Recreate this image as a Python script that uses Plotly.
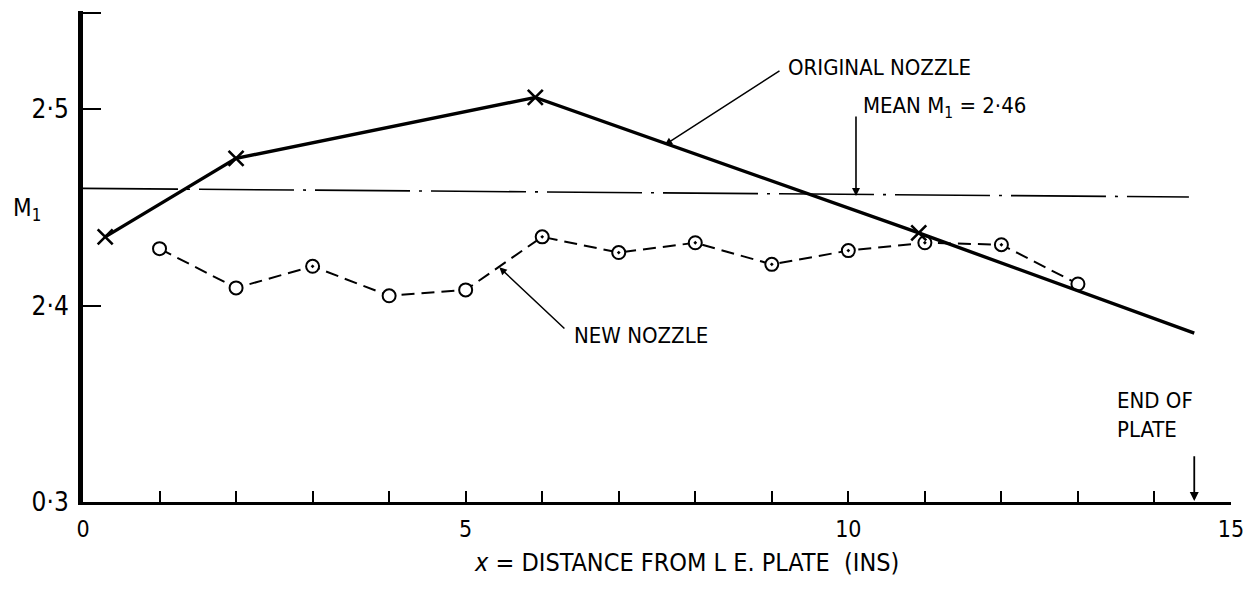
import plotly.graph_objects as go

# ---- data ----
orig_x = [0.29, 2.0, 5.91, 10.92, 14.52]
orig_y = [2.435, 2.475, 2.506, 2.437, 2.386]
orig_marked = 4  # first four points carry an "x" marker; last is the line end

new_x = [1, 2, 3, 4, 5, 6, 7, 8, 9, 10, 11, 12, 13]
new_y = [2.429, 2.409, 2.420, 2.405, 2.408, 2.435, 2.427,
         2.432, 2.421, 2.428, 2.432, 2.431, 2.411]
new_dotted = [False, False, True, False, False, True, True,
              True, True, True, True, True, False]

mean_x = [0, 14.45]
mean_y = [2.4597, 2.4553]

end_of_plate = 14.52

x_tick_vals = [0, 5, 10, 15]
x_tick_text = ["0", "5", "10", "15"]
y_tick_vals = [2.3, 2.4, 2.5, 2.549]
y_tick_text = ["0·3", "2·4", "2·5", ""]

FONT = "Liberation Sans Narrow, Arial Narrow, DejaVu Sans Condensed, sans-serif"

fig = go.Figure()

# mean line (dash-dot)
fig.add_trace(go.Scatter(
    x=mean_x, y=mean_y, mode="lines",
    line=dict(color="black", width=1.6, dash="95px,9px,3px,9px"),
    hoverinfo="skip", showlegend=False))

# new nozzle (dashed with circles)
fig.add_trace(go.Scatter(
    x=new_x, y=new_y, mode="lines+markers",
    line=dict(color="black", width=2, dash="13px,7px"),
    marker=dict(symbol=["circle-dot" if d else "circle" for d in new_dotted],
                size=13, color="white", line=dict(color="black", width=2)),
    showlegend=False))

# original nozzle (solid)
fig.add_trace(go.Scatter(
    x=orig_x, y=orig_y, mode="lines",
    line=dict(color="black", width=3.4), showlegend=False))
fig.add_trace(go.Scatter(
    x=orig_x[:orig_marked], y=orig_y[:orig_marked], mode="markers",
    marker=dict(symbol="x-thin", size=15, color="black",
                line=dict(color="black", width=2.6)),
    showlegend=False))

ann = []
txt = dict(family=FONT, size=22, color="black")

# ORIGINAL NOZZLE label + leader
ann.append(dict(x=9.19, y=2.521, xref="x", yref="y", text="ORIGINAL NOZZLE",
                showarrow=False, xanchor="left", yanchor="middle", font=txt))
ann.append(dict(x=7.60, y=2.4818, ax=9.12, ay=2.520, xref="x", yref="y",
                axref="x", ayref="y", text="", showarrow=True,
                arrowhead=2, arrowsize=1, arrowwidth=1.5, arrowcolor="black"))

# MEAN label + arrow
ann.append(dict(x=10.16, y=2.5011, xref="x", yref="y",
                text="MEAN M<sub>1</sub> = 2·46",
                showarrow=False, xanchor="left", yanchor="middle", font=txt))
ann.append(dict(x=10.10, y=2.4558, ax=10.10, ay=2.497, xref="x", yref="y",
                axref="x", ayref="y", text="", showarrow=True,
                arrowhead=2, arrowsize=1, arrowwidth=1.6, arrowcolor="black"))

# NEW NOZZLE label + leader
ann.append(dict(x=6.39, y=2.385, xref="x", yref="y", text="NEW NOZZLE",
                showarrow=False, xanchor="left", yanchor="middle", font=txt))
ann.append(dict(x=5.44, y=2.4195, ax=6.31, ay=2.3876, xref="x", yref="y",
                axref="x", ayref="y", text="", showarrow=True,
                arrowhead=2, arrowsize=1, arrowwidth=1.5, arrowcolor="black"))

# END OF PLATE label + arrow
ann.append(dict(x=13.49, y=2.3443, xref="x", yref="y", text="END OF<br>PLATE",
                showarrow=False, xanchor="left", yanchor="middle", align="left",
                font=txt))
ann.append(dict(x=end_of_plate, y=2.3005, ax=end_of_plate, ay=2.324,
                xref="x", yref="y", axref="x", ayref="y", text="",
                showarrow=True, arrowhead=2, arrowsize=1, arrowwidth=1.8,
                arrowcolor="black"))

# y-axis title M1
ann.append(dict(x=-0.0487, y=2.4487, xref="paper", yref="y",
                text="M<sub>1</sub>", showarrow=False,
                xanchor="center", yanchor="middle",
                font=dict(family=FONT, size=24, color="black")))

# x-axis title
ann.append(dict(x=0.526, y=-0.124, xref="paper", yref="paper",
                text="<i>x</i> = DISTANCE FROM L E. PLATE  (INS)",
                showarrow=False, xanchor="center", yanchor="middle",
                font=dict(family=FONT, size=25, color="black")))

fig.update_layout(
    width=1255, height=591,
    margin=dict(l=83, r=22, t=11, b=89),
    paper_bgcolor="white", plot_bgcolor="white",
    font=dict(family=FONT, size=22, color="black"),
    annotations=ann,
    xaxis=dict(range=[0, 15], showgrid=False, zeroline=False,
               showline=True, linecolor="black", linewidth=3,
               tickmode="array", tickvals=x_tick_vals, ticktext=x_tick_text,
               ticks="inside", ticklen=11, tickwidth=2, tickcolor="black",
               ticklabelstandoff=4,
               minor=dict(dtick=1, ticks="inside", ticklen=11, tickwidth=2,
                          tickcolor="black", showgrid=False),
               tickfont=dict(family=FONT, size=23)),
    yaxis=dict(range=[2.3, 2.55], showgrid=False, zeroline=False,
               showline=True, linecolor="black", linewidth=5,
               tickmode="array", tickvals=y_tick_vals, ticktext=y_tick_text,
               ticks="inside", ticklen=18, tickwidth=2, tickcolor="black",
               ticklabelstandoff=4,
               tickfont=dict(family=FONT, size=26)),
)

fig.write_html("out.html")
